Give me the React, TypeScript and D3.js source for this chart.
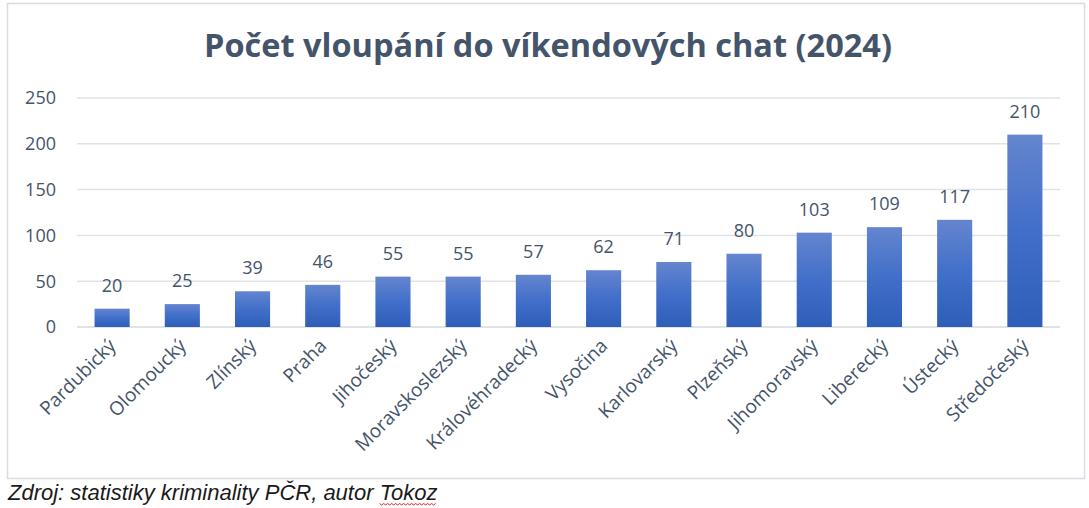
import React, { useLayoutEffect, useRef, useState } from "react";
import * as d3 from "d3";

const categories = ["Pardubický","Olomoucký","Zlínský","Praha","Jihočeský","Moravskoslezský","Královéhradecký","Vysočina","Karlovarský","Plzeňský","Jihomoravský","Liberecký","Ústecký","Středočeský"];
const values = [20,25,39,46,55,55,57,62,71,80,103,109,117,210];
const yTicks = [0,50,100,150,200,250];
const title = "Počet vloupání do víkendových chat (2024)";
const source = "Zdroj: statistiky kriminality PČR, autor ";
const author = "Tokoz";

const W = 1089, H = 508;
const plot = { left: 77, right: 1060, top: 98, bottom: 327 };
const textColor = "#44546a";
const font = "'Open Sans', sans-serif";

export default function App() {
  const authorRef = useRef<SVGTSpanElement>(null);
  const [wave, setWave] = useState<{ x0: number; x1: number } | null>(null);
  useLayoutEffect(() => {
    const el = authorRef.current;
    if (el) {
      const start = el.getStartPositionOfChar(0).x;
      const end = el.getEndPositionOfChar(author.length - 1).x;
      setWave({ x0: start, x1: end });
    }
  }, []);

  const x = d3.scaleBand<string>().domain(categories).range([plot.left, plot.right]).paddingInner(0.5).paddingOuter(0.25);
  const y = d3.scaleLinear().domain([0, 250]).range([plot.bottom, plot.top]);

  let wavePath = "";
  if (wave) {
    const yb = 503.5;
    const pts: [number, number][] = [];
    let k = 0;
    for (let px = wave.x0; px <= wave.x1; px += 2, k++) pts.push([px, yb + (k % 2 === 0 ? 0 : 1.5)]);
    wavePath = d3.line()(pts) || "";
  }

  return (
    <svg width={W} height={H} style={{ position: "absolute", left: 0, top: 0 }}>
      <defs>
        <linearGradient id="barGrad" x1="0" y1="0" x2="0" y2="1">
          <stop offset="0" stopColor="#6585cf" />
          <stop offset="0.5" stopColor="#416fc9" />
          <stop offset="1" stopColor="#2e5eb8" />
        </linearGradient>
      </defs>
      <rect x={0} y={0} width={W} height={H} fill="#fff" />
      <rect x={7.5} y={3.5} width={1077} height={475} fill="#fff" stroke="#d9dce1" strokeWidth={1.5} />
      <text x={548} y={57} textAnchor="middle" fontFamily={font} fontWeight={700} fontSize={32.5} fill={textColor}>{title}</text>
      {yTicks.map(t => (
        <g key={t}>
          <line x1={plot.left} x2={plot.right} y1={y(t)} y2={y(t)} stroke="#dfe2e7" strokeWidth={t === 0 ? 2 : 1.5} />
          <text x={56} y={y(t)} dy="0.35em" textAnchor="end" fontFamily={font} fontSize={18} fill={textColor}>{t}</text>
        </g>
      ))}
      {categories.map((c, i) => {
        const bx = x(c)!;
        const bw = x.bandwidth();
        const cx = bx + bw / 2;
        return (
          <g key={c}>
            <rect x={bx} y={y(values[i])} width={bw} height={plot.bottom - y(values[i])} fill="url(#barGrad)" />
            <text x={cx} y={y(values[i]) - 17} textAnchor="middle" fontFamily={font} fontSize={18} fill={textColor}>{values[i]}</text>
            <text transform={`translate(${cx + 5},${plot.bottom + 20}) rotate(-45)`} textAnchor="end" fontFamily={font} fontSize={19} fill={textColor}>{c}</text>
          </g>
        );
      })}
      <text x={8} y={500} fontFamily="'Liberation Sans', Arial, sans-serif" fontStyle="italic" fontSize={22} fill="#1a1a1a">
        {source}<tspan ref={authorRef}>{author}</tspan>
      </text>
      {wave && <path d={wavePath} fill="none" stroke="#e02020" strokeWidth={1} />}
    </svg>
  );
}
